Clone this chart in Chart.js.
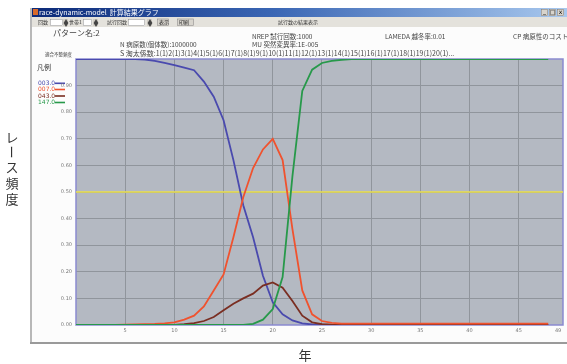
<!DOCTYPE html>
<html><head><meta charset="utf-8">
<script src="https://cdn.jsdelivr.net/npm/chart.js@4/dist/chart.umd.min.js"></script>
<style>html,body{margin:0;padding:0;background:#fff;overflow:hidden}canvas{display:block}</style>
</head><body>
<canvas id="c" width="567" height="364"></canvas>
<script>
// ---- data ----
const years = [0,1,2,3,4,5,6,7,8,9,10,11,12,13,14,15,16,17,18,19,20,21,22,23,24,25,26,27,28,29,30,31,32,33,34,35,36,37,38,39,40,41,42,43,44,45,46,47,48];
const s003 = [1,1,1,1,1,1,1,0.998,0.993,0.985,0.977,0.968,0.958,0.915,0.858,0.77,0.62,0.45,0.33,0.185,0.085,0.04,0.017,0.006,0.002,0.001,0,0,0,0,0,0,0,0,0,0,0,0,0,0,0,0,0,0,0,0,0,0,0];
const s007 = [0,0,0,0,0,0.001,0.002,0.003,0.004,0.006,0.01,0.02,0.035,0.07,0.13,0.19,0.33,0.48,0.59,0.66,0.70,0.62,0.36,0.13,0.04,0.015,0.008,0.005,0.005,0.005,0.005,0.005,0.005,0.005,0.005,0.005,0.005,0.005,0.005,0.005,0.005,0.005,0.005,0.005,0.005,0.005,0.005,0.005,0.005];
const s043 = [0,0,0,0,0,0,0,0,0,0,0,0.003,0.007,0.015,0.03,0.055,0.08,0.1,0.118,0.148,0.16,0.14,0.09,0.035,0.01,0.003,0.001,0,0,0,0,0,0,0,0,0,0,0,0,0,0,0,0,0,0,0,0,0,0];
const s147 = [0,0,0,0,0,0,0,0,0,0,0,0,0,0,0,0,0,0,0.004,0.02,0.06,0.18,0.56,0.88,0.96,0.985,0.993,0.997,1,1,1,1,1,1,1,1,1,1,1,1,1,1,1,1,1,1,1,1,1];
const seriesNames = ["003.0","007.0","043.0","147.0"];
const thresholdX = [0, 49.5];
const thresholdY = [0.5, 0.5];
const xTickValues = [5,10,15,20,25,30,35,40,45,49];
const yTickLabels = ["0.00","0.10","0.20","0.30","0.40","0.50","0.60","0.70","0.80","0.90"];

const COLORS = ["#4a4aae","#f0522e","#7a2e22","#27994a"];
const pts = arr => years.map((x,i)=>({x, y:arr[i]}));

const framePlugin = {
  id:'frame',
  beforeDraw(chart){
    const c = chart.ctx, a = chart.chartArea;
    c.save();
    c.fillStyle='#fff'; c.fillRect(0,0,567,364);
    // window body
    c.fillStyle='#fcfcfc'; c.fillRect(32,8,535,335);
    // window left & bottom border
    c.fillStyle='#b8b8b8'; c.fillRect(30,8,2,336);
    c.fillStyle='#9a9a9a'; c.fillRect(30,342,537,2);
    // title bar
    const g = c.createLinearGradient(32,0,567,0);
    g.addColorStop(0,'#0c2a78'); g.addColorStop(0.45,'#3a66b4'); g.addColorStop(1,'#a8c8ee');
    c.fillStyle=g; c.fillRect(32,8,535,9);
    c.fillStyle='#d86a2a'; c.fillRect(33,9,5,6);
    c.fillStyle='#fff'; c.font='7px "Noto Sans CJK JP"'; c.textBaseline='middle'; c.textAlign='left';
    c.fillText('race-dynamic-model  計算結果グラフ',39,12.5);
    // title buttons
    [541,549,557].forEach(x=>{c.fillStyle='#d8d4cc'; c.fillRect(x,9,7,7); c.strokeStyle='#777'; c.lineWidth=0.5; c.strokeRect(x+0.5,9.5,6,6);});
    c.fillStyle='#000'; c.font='6px "DejaVu Sans"'; c.textAlign='center';
    c.fillText('_',544.5,11.5); c.fillText('□',552.5,12.5); c.fillText('x',560.5,12.5);
    // toolbar
    c.fillStyle='#e4e2dc'; c.fillRect(32,17,535,10);
    c.font='5px "Noto Sans CJK JP"'; c.textAlign='left'; c.fillStyle='#333';
    c.fillText('回数',38,22.5); c.fillText('世帯1',69,22.5); c.fillText('試行回数',107,22.5);
    c.fillText('試行数の結果表示',278,22.5);
    [[50,13],[83,9],[128,17]].forEach(([x,w])=>{c.fillStyle='#fff';c.fillRect(x,19,w,7);c.strokeStyle='#888';c.lineWidth=0.5;c.strokeRect(x+0.5,19.5,w-1,6);});
    [63,93,147].forEach(x=>{c.fillStyle='#d0cdc6';c.fillRect(x,19,5,7);c.fillStyle='#444';c.fillText('▲',x+0.5,20.8);c.fillText('▼',x+0.5,24.2);});
    [[157,12,'表示'],[177,17,'印刷']].forEach(([x,w,t])=>{c.fillStyle='#d8d5ce';c.fillRect(x,18.5,w,7.5);c.strokeStyle='#888';c.strokeRect(x+0.5,19,w-1,6.5);c.fillStyle='#222';c.fillText(t,x+2,22.5);});
    // header texts
    c.fillStyle='#444';
    c.font='8px "Noto Sans CJK JP"'; c.fillText('パターン名:2',53,33);
    c.font='6.5px "Noto Sans CJK JP"';
    c.fillText('NREP 試行回数:1000',252,37);
    c.fillText('LAMEDA 越冬率:0.01',385,37);
    c.fillText('CP 病原性のコスト',513,37);
    c.fillText('N 病原数(個体数):1000000',120,45);
    c.fillText('MU 突然変異率:1E-005',252,45);
    c.font='7px "Noto Sans CJK JP"';
    c.fillText('S 淘太係数:1(1)2(1)3(1)4(1)5(1)6(1)7(1)8(1)9(1)10(1)11(1)12(1)13(1)14(1)15(1)16(1)17(1)18(1)19(1)20(1)...',120,53);
    c.font='4.5px "Noto Sans CJK JP"'; c.fillText('適合不整頻度',45,54);
    c.font='7px "Noto Sans CJK JP"'; c.fillStyle='#333'; c.fillText('凡例',37,67);
    // legend
    c.font='6px "DejaVu Sans"';
    const ly=[83.3,89.5,96,102.5];
    seriesNames.forEach((n,i)=>{
      c.fillStyle=COLORS[i]; c.fillText(n,38,ly[i]);
      c.fillRect(55,ly[i]-0.8,10,1.6);
    });
    // plot background
    c.fillStyle='#b4b9c2'; c.fillRect(a.left,a.top,a.right-a.left,a.bottom-a.top);
    // outer axis titles
    c.fillStyle='#333'; c.font='13px "Noto Sans CJK JP"'; c.textAlign='center';
    c.fillText('レ',12,137);
    c.save(); c.translate(12,152); c.rotate(Math.PI/2); c.fillText('ー',0,0); c.restore();
    c.fillText('ス',12,167); c.fillText('頻',12,183); c.fillText('度',12,199);
    c.fillText('年',305,355);
    c.restore();
  },
  beforeDatasetsDraw(chart){
    const c=chart.ctx,a=chart.chartArea;
    c.save(); c.strokeStyle='#8a8ad0'; c.lineWidth=1.5;
    c.strokeRect(a.left,a.top,a.right-a.left,a.bottom-a.top);
    c.restore();
  }
};

new Chart(document.getElementById('c'),{
  type:'line',
  data:{datasets:[
    {label:'threshold',data:thresholdX.map((x,i)=>({x,y:thresholdY[i]})),borderColor:'#ece24a',borderWidth:1.5,pointRadius:0,order:5},
    {label:seriesNames[0],data:pts(s003),borderColor:COLORS[0],borderWidth:1.8,pointRadius:0,order:4},
    {label:seriesNames[2],data:pts(s043),borderColor:COLORS[2],borderWidth:1.8,pointRadius:0,order:3},
    {label:seriesNames[1],data:pts(s007),borderColor:COLORS[1],borderWidth:1.8,pointRadius:0,order:2},
    {label:seriesNames[3],data:pts(s147),borderColor:COLORS[3],borderWidth:1.8,pointRadius:0,order:1}
  ]},
  options:{
    responsive:false,animation:false,devicePixelRatio:1,
    layout:{padding:{left:0,right:4,top:59,bottom:0}},
    plugins:{legend:{display:false},tooltip:{enabled:false}},
    elements:{line:{tension:0}},
    scales:{
      x:{type:'linear',min:0,max:49.5,
        afterBuildTicks(s){s.ticks=xTickValues.map(v=>({value:v}));},
        afterFit(s){s.height=39;},
        border:{display:false},
        grid:{drawTicks:false,color:ctx=>ctx.tick&&ctx.tick.value===49?'rgba(0,0,0,0)':'#90959c',lineWidth:1},
        ticks:{padding:3,font:{size:5,family:'DejaVu Sans'},color:'#777',maxRotation:0,autoSkip:false,callback:v=>String(v)}
      },
      y:{min:0,max:1,
        afterBuildTicks(s){s.ticks=yTickLabels.map((t,i)=>({value:i/10}));},
        afterFit(s){s.width=76;},
        border:{display:false},
        grid:{drawTicks:false,color:ctx=>ctx.tick&&ctx.tick.value===0?'rgba(0,0,0,0)':'#90959c',lineWidth:1},
        ticks:{padding:4,font:{size:5,family:'DejaVu Sans'},color:'#777',autoSkip:false,callback:(v,i)=>yTickLabels[i]}
      }
    }
  },
  plugins:[framePlugin]
});
</script>
</body></html>
